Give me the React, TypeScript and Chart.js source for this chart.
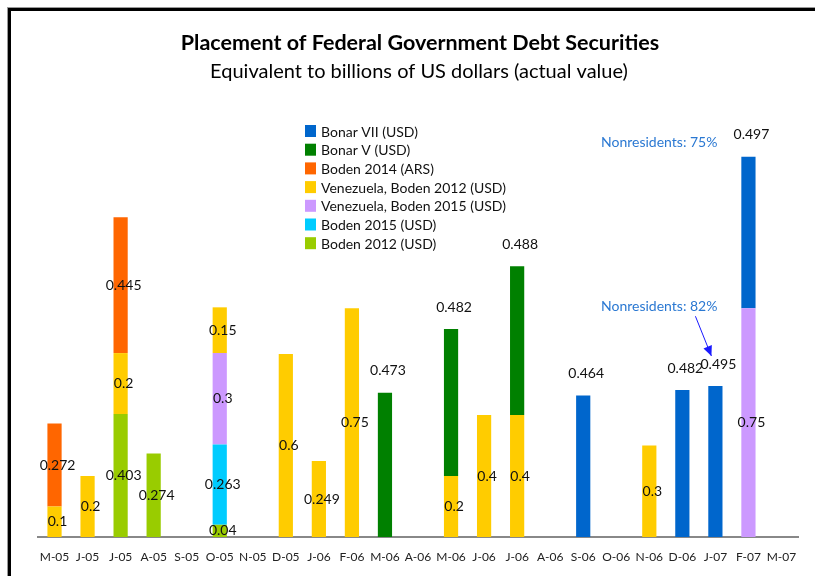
import React, { useEffect, useRef } from "react";
import { Chart, registerables } from "chart.js";

Chart.register(...registerables);

const FONT = 'Lato, "Gill Sans", "DejaVu Sans", sans-serif';

const categories = [
  "M-05", "J-05", "J-05", "A-05", "S-05", "O-05", "N-05", "D-05", "J-06", "F-06", "M-06", "A-06",
  "M-06", "J-06", "J-06", "A-06", "S-06", "O-06", "N-06", "D-06", "J-07", "F-07", "M-07",
];

const n = null;
// stacked bottom -> top
const boden2012 = [n, n, 0.403, 0.274, n, 0.04, n, n, n, n, n, n, n, n, n, n, n, n, n, n, n, n, n];
const boden2015 = [n, n, n, n, n, 0.263, n, n, n, n, n, n, n, n, n, n, n, n, n, n, n, n, n];
const venezuela2015 = [n, n, n, n, n, 0.3, n, n, n, n, n, n, n, n, n, n, n, n, n, n, n, 0.75, n];
const venezuela2012 = [0.1, 0.2, 0.2, n, n, 0.15, n, 0.6, 0.249, 0.75, n, n, 0.2, 0.4, 0.4, n, n, n, 0.3, n, n, n, n];
const boden2014 = [0.272, n, 0.445, n, n, n, n, n, n, n, n, n, n, n, n, n, n, n, n, n, n, n, n];
const bonarV = [n, n, n, n, n, n, n, n, n, n, 0.473, n, 0.482, n, 0.488, n, n, n, n, n, n, n, n];
const bonarVII = [n, n, n, n, n, n, n, n, n, n, n, n, n, n, n, n, 0.464, n, n, 0.482, 0.495, 0.497, n];

const titleText = "Placement of Federal Government Debt Securities";
const subtitleText = "Equivalent to billions of US dollars (actual value)";
const noteTop = "Nonresidents: 75%";
const noteArrow = "Nonresidents: 82%";

const seriesDefs = [
  { label: "Boden 2012 (USD)", data: boden2012, color: "#99cc00", above: false },
  { label: "Boden 2015 (USD)", data: boden2015, color: "#00ccff", above: false },
  { label: "Venezuela, Boden 2015 (USD)", data: venezuela2015, color: "#cc99ff", above: false },
  { label: "Venezuela, Boden 2012 (USD)", data: venezuela2012, color: "#ffcc00", above: false },
  { label: "Boden 2014 (ARS)", data: boden2014, color: "#ff6600", above: false },
  { label: "Bonar V (USD)", data: bonarV, color: "#008000", above: true },
  { label: "Bonar VII (USD)", data: bonarVII, color: "#0066cc", above: true },
];

const decorPlugin = {
  id: "decor",
  beforeDraw(chart: any) {
    const ctx = chart.ctx;
    ctx.save();
    ctx.fillStyle = "#ffffff";
    ctx.fillRect(0, 0, chart.width, chart.height);
    ctx.fillStyle = "#9a9a9a";
    ctx.fillRect(7, 7, chart.width - 7, 1);
    ctx.fillRect(7, 7, 1, chart.height - 7);
    ctx.fillStyle = "#000000";
    ctx.fillRect(8, 8, chart.width - 8, 3);
    ctx.fillRect(8, 8, 3, chart.height - 8);
    ctx.restore();
  },
  afterDraw(chart: any) {
    const ctx = chart.ctx;
    ctx.save();
    // titles
    ctx.fillStyle = "#000";
    ctx.textAlign = "center";
    ctx.textBaseline = "middle";
    ctx.font = `bold 21.5px ${FONT}`;
    ctx.fillText(titleText, 420, 43);
    ctx.font = `20px ${FONT}`;
    ctx.fillText(subtitleText, 419, 72);

    // legend (reverse of stack order)
    const defs = [...seriesDefs].reverse();
    ctx.font = `14px ${FONT}`;
    ctx.textAlign = "left";
    defs.forEach((d, i) => {
      const cy = 131 + i * 18.7;
      ctx.fillStyle = d.color;
      ctx.fillRect(305, cy - 6, 11, 12);
      ctx.fillStyle = "#111";
      ctx.fillText(d.label, 321, cy + 1);
    });

    // value labels
    ctx.font = `14px ${FONT}`;
    ctx.textAlign = "center";
    ctx.fillStyle = "#111";
    seriesDefs.forEach((d, di) => {
      const meta = chart.getDatasetMeta(di);
      meta.data.forEach((el: any, j: number) => {
        const v = d.data[j];
        if (v == null) return;
        const x = el.x + 3;
        const y = d.above ? el.y - 22 : (el.y + el.base) / 2;
        ctx.fillText(String(v), x, y);
      });
    });

    // annotations anchored to F-07 and J-07 bars
    const fIdx = 21;
    const jIdx = 20;
    const blueMeta = chart.getDatasetMeta(6);
    const purpleMeta = chart.getDatasetMeta(2);
    const fBar = blueMeta.data[fIdx];
    const jBar = blueMeta.data[jIdx];
    const pBar = purpleMeta.data[fIdx];
    const noteRight = fBar.x - 31;
    ctx.fillStyle = "#2a78d2";
    ctx.font = `14px ${FONT}`;
    ctx.textAlign = "right";
    ctx.fillText(noteTop, noteRight, fBar.y - 14);
    const noteY = pBar.y - 2;
    ctx.fillText(noteArrow, noteRight, noteY);

    // arrow
    const x0 = noteRight - 22;
    const y0 = noteY + 10;
    const x1 = jBar.x - 4;
    const y1 = jBar.y - 30;
    ctx.strokeStyle = "#1a1aff";
    ctx.fillStyle = "#1a1aff";
    ctx.lineWidth = 1;
    ctx.beginPath();
    ctx.moveTo(x0, y0);
    ctx.lineTo(x1, y1);
    ctx.stroke();
    const ang = Math.atan2(y1 - y0, x1 - x0);
    const hl = 10;
    const hw = 4.5;
    ctx.beginPath();
    ctx.moveTo(x1, y1);
    ctx.lineTo(x1 - hl * Math.cos(ang) + hw * Math.sin(ang), y1 - hl * Math.sin(ang) - hw * Math.cos(ang));
    ctx.lineTo(x1 - hl * Math.cos(ang) - hw * Math.sin(ang), y1 - hl * Math.sin(ang) + hw * Math.cos(ang));
    ctx.closePath();
    ctx.fill();
    ctx.restore();
  },
};

export default function App() {
  const ref = useRef<HTMLCanvasElement>(null);
  useEffect(() => {
    if (!ref.current) return;
    const chart = new Chart(ref.current, {
      type: "bar",
      data: {
        labels: categories,
        datasets: seriesDefs.map((d) => ({
          label: d.label,
          data: d.data as any,
          backgroundColor: d.color,
          borderWidth: 0,
          barPercentage: 0.43,
          categoryPercentage: 1,
        })),
      },
      options: {
        animation: false,
        responsive: false,
        maintainAspectRatio: false,
        devicePixelRatio: 1,
        layout: { padding: { left: 38, right: 17, top: 110, bottom: 0 } },
        plugins: {
          legend: { display: false },
          title: { display: false },
          tooltip: { enabled: false },
        },
        scales: {
          x: {
            stacked: true,
            grid: { display: false, drawTicks: false },
            border: { display: true, color: "#888888", width: 2 },
            ticks: {
              autoSkip: false,
              maxRotation: 0,
              minRotation: 0,
              padding: 13,
              color: "#222",
              font: { family: FONT, size: 12 },
            },
            afterFit: (scale: any) => {
              scale.height = 39;
            },
          },
          y: {
            stacked: true,
            display: false,
            min: 0,
            max: 1.4,
          },
        },
      },
      plugins: [decorPlugin],
    });
    return () => chart.destroy();
  }, []);
  return (
    <div style={{ position: "absolute", left: 0, top: 0, width: 815, height: 576 }}>
      <canvas ref={ref} width={815} height={576} style={{ width: 815, height: 576 }} />
    </div>
  );
}
